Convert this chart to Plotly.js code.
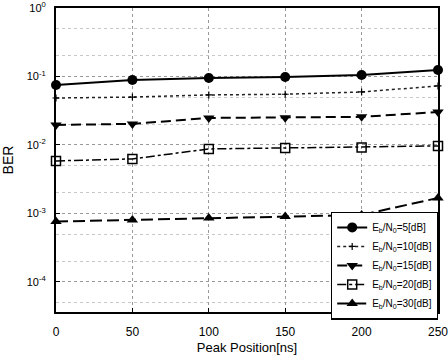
<!DOCTYPE html>
<html>
<head>
<meta charset="utf-8">
<script src="https://cdn.plot.ly/plotly-3.0.1.min.js"></script>
<style>html,body{margin:0;padding:0;background:#fff;}#chart{width:448px;height:362px;}</style>
</head>
<body>
<div id="chart"></div>
<script>
const peakPosition = [0, 50, 100, 150, 200, 250];
const ber5dB  = [0.075, 0.089, 0.095, 0.098, 0.105, 0.124];
const ber10dB = [0.0485, 0.050, 0.0537, 0.055, 0.0594, 0.0727];
const ber15dB = [0.0196, 0.0203, 0.0248, 0.025, 0.0257, 0.0303];
const ber20dB = [0.00584, 0.00625, 0.00875, 0.00904, 0.0092, 0.00967];
const ber30dB = [0.00076, 0.0008, 0.00086, 0.0009, 0.00095, 0.00168];
const seriesNames = [
  'E<sub>b</sub>/N<sub>0</sub>=5[dB]',
  'E<sub>b</sub>/N<sub>0</sub>=10[dB]',
  'E<sub>b</sub>/N<sub>0</sub>=15[dB]',
  'E<sub>b</sub>/N<sub>0</sub>=20[dB]',
  'E<sub>b</sub>/N<sub>0</sub>=30[dB]'
];
const xTicks = [0, 50, 100, 150, 200, 250];
const yTickVals = [1, 0.1, 0.01, 0.001, 0.0001];
const yTickText = ['10<sup>0</sup>', '10<sup>-1</sup>', '10<sup>-2</sup>', '10<sup>-3</sup>', '10<sup>-4</sup>'];

const FONT = 'Liberation Sans, Arial, sans-serif';
const traces = [
  {x: peakPosition, y: ber5dB, name: seriesNames[0], mode: 'lines+markers',
   line: {color: '#000', width: 2, dash: 'solid'},
   marker: {symbol: 'circle', size: 10, color: '#000'}},
  {x: peakPosition, y: ber10dB, name: seriesNames[1], mode: 'lines+markers',
   line: {color: '#222', width: 1.5, dash: 'dot'},
   marker: {symbol: 'cross-thin', size: 5, color: '#000', line: {color: '#000', width: 1.2}}},
  {x: peakPosition, y: ber15dB, name: seriesNames[2], mode: 'lines+markers',
   line: {color: '#000', width: 2, dash: '10px,5px'},
   marker: {symbol: 'triangle-down', size: 10, color: '#000'}},
  {x: peakPosition, y: ber20dB, name: seriesNames[3], mode: 'lines+markers',
   line: {color: '#000', width: 1.5, dash: 'dashdot'},
   marker: {symbol: 'square-open', size: 9, color: '#000', line: {color: '#000', width: 1.5}}},
  {x: peakPosition, y: ber30dB, name: seriesNames[4], mode: 'lines+markers',
   line: {color: '#000', width: 2, dash: '12px,5px'},
   marker: {symbol: 'triangle-up', size: 10, color: '#000'}}
].map(t => Object.assign(t, {cliponaxis: false, type: 'scatter'}));

const layout = {
  width: 448, height: 362,
  margin: {l: 56, r: 10, t: 8, b: 50},
  paper_bgcolor: '#fff', plot_bgcolor: '#fff',
  font: {family: FONT, color: '#000', size: 11},
  showlegend: true,
  legend: {
    x: 1, xanchor: 'right', y: 0.33, yanchor: 'top',
    bgcolor: '#fff', bordercolor: '#000', borderwidth: 1.2,
    font: {family: FONT, size: 10, color: '#000'},
    tracegroupgap: 0
  },
  xaxis: {
    range: [0, 250.001], tickvals: xTicks, ticktext: xTicks.map(String),
    ticks: 'inside', ticklen: 4, tickcolor: '#000',
    showline: true, linecolor: '#000', linewidth: 2, mirror: true,
    showgrid: true, gridcolor: '#999', griddash: 'dot', gridwidth: 1,
    zeroline: false, ticklabelstandoff: 8, ticklabeloverflow: 'allow',
    tickfont: {family: FONT, size: 12},
    title: {text: 'Peak Position[ns]', font: {family: FONT, size: 13}, standoff: 4}
  },
  yaxis: {
    type: 'log', range: [-4.44, 0],
    tickvals: yTickVals, ticktext: yTickText,
    ticks: 'inside', ticklen: 4, tickcolor: '#000',
    showline: true, linecolor: '#000', linewidth: 2, mirror: true,
    showgrid: true, gridcolor: '#999', griddash: 'dot', gridwidth: 1,
    minor: {dtick: 'D2', showgrid: true, gridcolor: '#c8c8c8', griddash: 'dot', gridwidth: 1, ticks: ''},
    zeroline: false, ticklabelstandoff: 6,
    tickfont: {family: FONT, size: 11},
    title: {text: 'BER', font: {family: FONT, size: 14}, standoff: 10}
  }
};

Plotly.newPlot('chart', traces, layout, {displayModeBar: false, staticPlot: true});
</script>
</body>
</html>
